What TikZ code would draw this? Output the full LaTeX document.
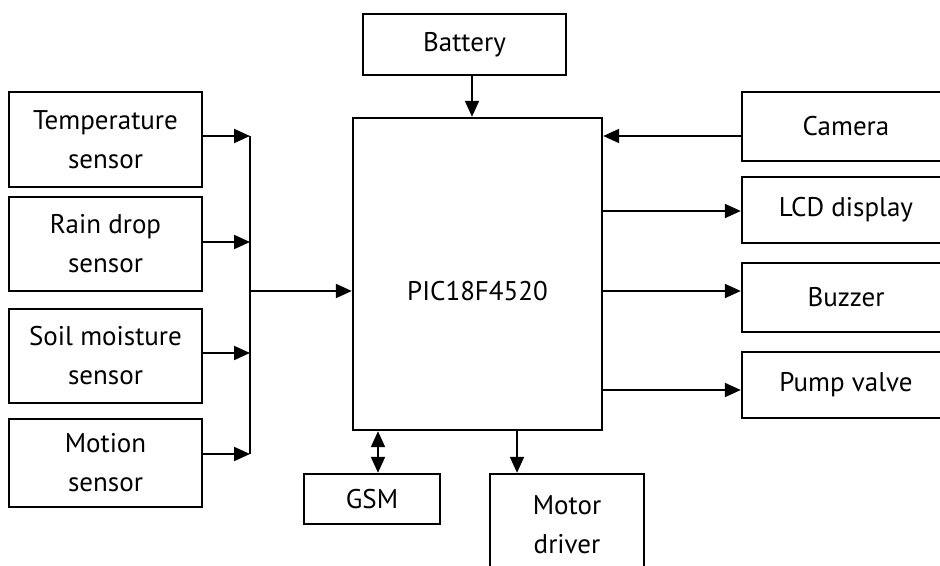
\documentclass[tikz,border=0pt]{standalone}
\usepackage{fontspec}
\setmainfont{PT Sans}
\usepackage{tikz}
\usetikzlibrary{arrows.meta,positioning}

\begin{document}
\begin{tikzpicture}[x=0.5pt,y=-0.5pt,
    box/.style={draw,line width=1.2pt,align=center,inner sep=0pt,
      font=\fontsize{13.5}{19.5}\selectfont},
    arr/.style={line width=1pt,-{Triangle[length=8pt,width=7pt]}}]
  \useasboundingbox (0,0) rectangle (940,566);
  \clip (0,0) rectangle (940,566);
  % centre and sources
  \node[box,minimum width=124.5pt,minimum height=156pt] (pic) at (477.5,274) {};
  \node[font=\fontsize{13.5}{19.5}\selectfont] (piclbl) at (477.5,291) {PIC18F4520};
  \node[box,minimum width=101.5pt,minimum height=30.5pt] (battery) at (464.5,44.5) {Battery};
  \node[box,minimum width=96.5pt,minimum height=47.5pt] (temp) at (105.5,139.5) {Temperature\\sensor};
  \node[box,minimum width=96.5pt,minimum height=47pt] (rain) at (105.5,244) {Rain drop\\sensor};
  \node[box,minimum width=96.5pt,minimum height=47pt] (soil) at (105.5,356) {Soil moisture\\sensor};
  \node[box,minimum width=96.5pt,minimum height=44pt] (motion) at (105.5,463) {Motion\\sensor};
  % outputs
  \node[box,minimum width=104pt,minimum height=34.5pt] (camera) at (846,126.5) {Camera};
  \node[box,minimum width=104pt,minimum height=33pt] (lcd) at (846,210) {LCD display};
  \node[box,minimum width=104pt,minimum height=34.5pt] (buzzer) at (846,297.5) {Buzzer};
  \node[box,minimum width=104pt,minimum height=33pt] (pump) at (846,385) {Pump valve};
  \node[box,minimum width=68pt,minimum height=25pt] (gsm) at (372,499) {GSM};
  \node[box,minimum width=77pt,minimum height=51pt] (motor) at (567,525) {Motor\\driver};
  % sensor bus
  \coordinate (bustop) at (250,136);
  \coordinate (busbot) at (250,454);
  \draw[line width=1pt] (bustop) -- (busbot);
  \foreach \s/\dy in {temp/1.75pt,rain/1pt,soil/1.5pt,motion/4.5pt}
    \draw[arr] ([yshift=\dy]\s.east) -- ([yshift=\dy]\s.east -| bustop);
  \draw[arr] (piclbl -| bustop) -- (piclbl -| pic.west);
  % power and peripherals
  \draw[arr] ([xshift=3.75pt]battery.south) -- ([xshift=3.75pt]battery.south |- pic.north);
  \draw[arr] ([yshift=-4.75pt]camera.west) -- ([yshift=-4.75pt]camera.west -| pic.east);
  \draw[arr] ([yshift=-0.5pt]lcd.west -| pic.east) -- ([yshift=-0.5pt]lcd.west);
  \draw[arr] ([yshift=3.25pt]buzzer.west -| pic.east) -- ([yshift=3.25pt]buzzer.west);
  \draw[arr] ([yshift=-2.5pt]pump.west -| pic.east) -- ([yshift=-2.5pt]pump.west);
  \draw[arr,{Triangle[length=8pt,width=7pt]}-{Triangle[length=8pt,width=7pt]}]
    ([xshift=3pt]gsm.north |- pic.south) -- ([xshift=3pt]gsm.north);
  \draw[arr] ([xshift=-25pt]motor.north |- pic.south) -- ([xshift=-25pt]motor.north);
\end{tikzpicture}
\end{document}
